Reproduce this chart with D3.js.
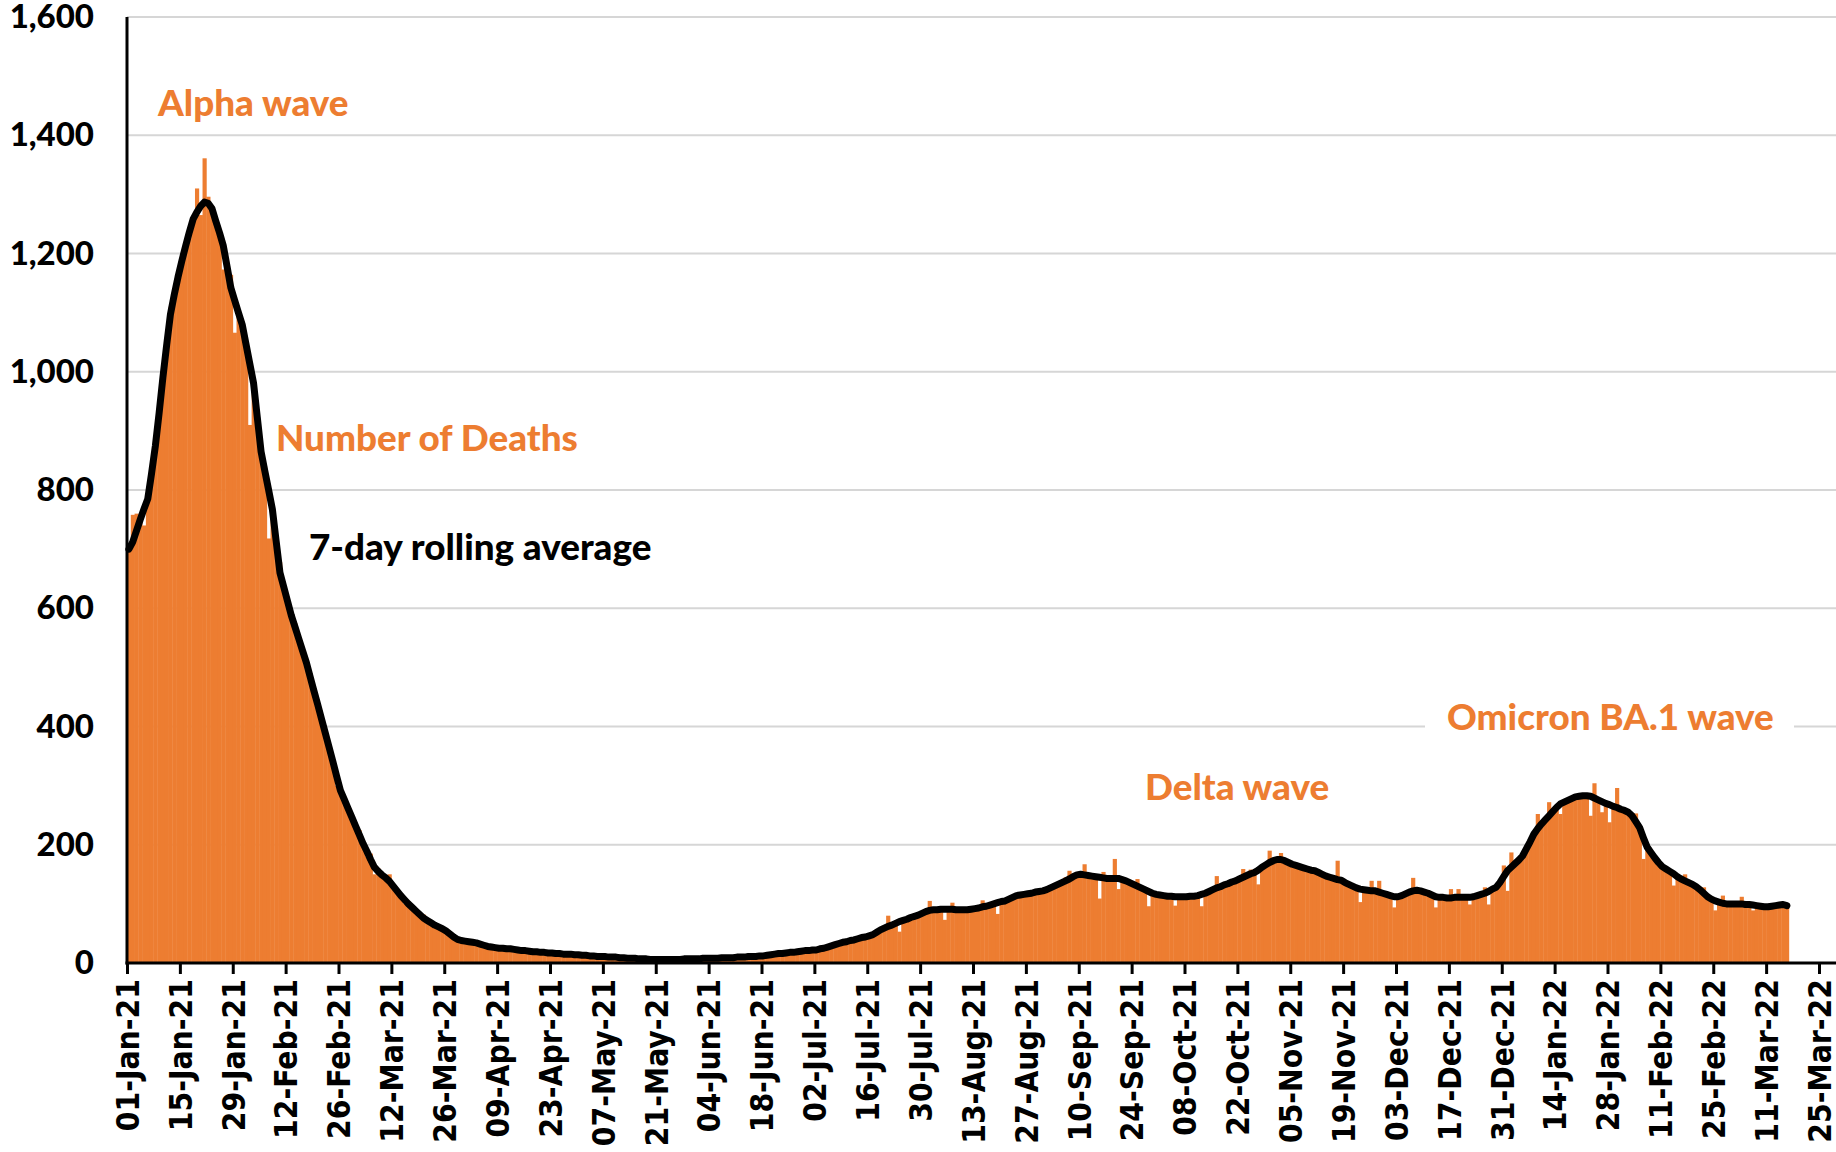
<!DOCTYPE html>
<html><head><meta charset="utf-8">
<script src="https://cdn.jsdelivr.net/npm/d3@7"></script>
<style>html,body{margin:0;padding:0;background:#fff;} svg{display:block;}</style>
</head><body>
<svg id="chart" width="1836" height="1152"></svg>
<script>
// ---------------- DATA ----------------
const startDate = "01-Jan-21";

// Daily number of deaths, one value per day from 01-Jan-21 (440 days)
const dailyDeaths = [
705,758,760,757,740,790,820,880,935,1010,
1040,1110,1120,1165,1190,1209,1225,1262,1310,1265,
1361,1296,1280,1245,1240,1173,1170,1164,1066,1106,
1085,1040,910,980,920,856,840,718,770,720,
678,637,610,590,575,540,517,495,490,455,
440,420,380,370,345,300,285,280,255,240,
231,225,195,180,185,150,160,145,140,150,
125,118,115,100,104,90,85,80,82,68,
66,60,62,55,58,44,46,40,35,38,
33,37,32,30,32,26,28,25,24,27,
22,25,23,20,22,19,21,18,20,17,
19,16,18,15,17,14,16,15,13,15,
12,14,11,13,10,12,11,9,11,10,
9,10,7,9,8,6,8,7,5,7,
6,5,7,6,5,7,6,8,6,7,
6,8,7,9,8,7,9,8,10,9,
10,9,11,10,12,10,13,11,14,12,
15,14,18,15,19,17,20,18,22,20,
23,21,25,23,27,26,31,30,35,34,
38,36,42,40,46,43,49,47,55,58,
62,80,60,70,53,75,72,80,76,84,
86,88,105,90,92,89,73,91,102,88,
92,89,91,93,90,95,106,97,99,101,
83,106,104,110,113,116,112,118,121,116,
123,118,125,122,130,128,136,134,145,156,
148,151,147,167,150,146,148,109,154,145,
140,176,125,145,138,137,133,142,127,124,
96,120,118,117,116,112,115,97,113,115,
110,114,116,112,96,120,118,123,147,126,
130,136,133,141,138,159,147,158,150,133,
160,166,190,172,175,186,171,168,163,165,
162,160,158,155,157,150,152,146,143,141,
173,138,134,131,128,126,103,125,122,139,
118,139,115,117,112,94,110,113,116,118,
144,121,123,118,116,113,94,112,110,112,
125,108,125,110,112,99,113,115,118,128,
99,126,130,140,165,122,187,170,176,182,
195,208,220,252,238,245,272,258,266,252,
274,277,280,283,284,286,285,249,304,278,
255,272,238,266,296,262,258,257,250,253,
230,176,198,190,180,172,165,160,156,131,
148,144,150,138,135,130,126,128,113,110,
89,104,114,101,99,100,102,112,98,100,
89,98,97,96,95,97,98,99,100,98
];

// 7-day rolling average, one value per day (440 days)
const rollingAverage7 = [
700,712,731,750,768,785,828,874,930,990,
1045,1097,1130,1160,1187,1212,1236,1258,1270,1280,
1287,1285,1276,1255,1235,1213,1178,1142,1121,1100,
1080,1047,1014,981,923,865,832,800,767,713,
660,636,612,588,568,548,528,508,484,460,
437,413,389,365,341,316,292,277,262,247,
232,217,202,189,175,162,155,149,144,138,
130,122,114,107,100,94,88,82,76,72,
68,64,61,58,54,49,44,40,38,37,
36,35,34,32,30,28,27,26,25,25,
24,24,23,22,21,21,20,19,19,18,
18,17,17,16,16,15,15,15,14,14,
13,13,12,12,11,11,11,10,10,10,
9,9,8,8,8,7,7,7,6,6,
6,6,6,6,6,6,6,7,7,7,
7,7,8,8,8,8,8,9,9,9,
9,10,10,10,11,11,11,12,12,13,
14,15,16,16,17,18,18,19,20,21,
21,22,22,24,25,27,29,31,33,35,
36,38,39,41,43,44,46,48,52,56,
59,62,64,67,70,72,74,77,79,81,
84,87,89,90,90,91,91,91,91,90,
90,90,90,91,92,93,95,96,98,100,
102,104,105,108,111,114,115,116,117,118,
120,121,122,124,127,130,133,136,139,142,
146,149,150,149,148,147,146,145,144,143,
143,143,143,141,139,136,133,130,127,124,
121,118,116,115,114,113,113,112,112,112,
112,113,113,114,116,118,121,124,127,129,
132,134,137,139,142,145,148,151,153,157,
162,166,170,173,175,175,173,170,167,165,
163,161,159,157,156,153,150,147,145,143,
141,140,136,133,130,127,125,124,123,122,
122,120,118,116,114,112,112,114,117,120,
122,123,122,120,118,115,112,111,111,110,
110,111,111,111,111,111,112,114,116,118,
121,125,128,136,146,156,162,168,174,181,
193,205,218,227,235,242,249,256,263,269,
272,275,278,281,282,283,283,282,279,276,
273,270,268,265,263,260,258,255,249,239,
229,212,196,187,178,170,163,159,155,151,
146,142,139,136,133,129,124,118,112,108,
105,103,101,100,100,100,100,100,99,99,
98,97,96,95,95,96,97,98,99,97
];

const tickLabels = ["01-Jan-21","15-Jan-21","29-Jan-21","12-Feb-21","26-Feb-21","12-Mar-21","26-Mar-21",
"09-Apr-21","23-Apr-21","07-May-21","21-May-21","04-Jun-21","18-Jun-21","02-Jul-21","16-Jul-21",
"30-Jul-21","13-Aug-21","27-Aug-21","10-Sep-21","24-Sep-21","08-Oct-21","22-Oct-21","05-Nov-21",
"19-Nov-21","03-Dec-21","17-Dec-21","31-Dec-21","14-Jan-22","28-Jan-22","11-Feb-22","25-Feb-22",
"11-Mar-22","25-Mar-22"];

const yTickValues = [0,200,400,600,800,1000,1200,1400,1600];

const annotationTexts = ["Alpha wave","Number of Deaths","7-day rolling average","Delta wave","Omicron BA.1 wave"];

// ---------------- DRAWING ----------------
const W = 1836, H = 1152;
const ORANGE = "#ED7D31";
const parse = d3.utcParse("%d-%b-%y");
const start = parse(startDate);
const dates = dailyDeaths.map((_, i) => d3.utcDay.offset(start, i));
const tickDates = tickLabels.map(parse);

const x = d3.scaleUtc().domain([start, tickDates[tickDates.length - 1]]).range([127, 1819]);
const y = d3.scaleLinear().domain([0, 1600]).range([963, 17]);

const svg = d3.select("#chart");
svg.append("rect").attr("width", W).attr("height", H).attr("fill", "#fff");

// gridlines
svg.append("g").selectAll("line").data(yTickValues.filter(v => v > 0)).join("line")
  .attr("x1", 127).attr("x2", W).attr("y1", d => y(d)).attr("y2", d => y(d))
  .attr("stroke", "#d6d6d6").attr("stroke-width", 2.2);

// bars
svg.append("g").selectAll("rect").data(dailyDeaths).join("rect")
  .attr("x", (d, i) => x(dates[i]))
  .attr("width", (d, i) => x(d3.utcDay.offset(dates[i], 1)) - x(dates[i]) + 0.4)
  .attr("y", d => y(d))
  .attr("height", d => y(0) - y(d))
  .attr("fill", ORANGE);

// rolling average line
const line = d3.line()
  .x((d, i) => (x(dates[i]) + x(d3.utcDay.offset(dates[i], 1))) / 2)
  .y(d => y(d));
svg.append("path").datum(rollingAverage7).attr("d", line)
  .attr("fill", "none").attr("stroke", "#000").attr("stroke-width", 7)
  .attr("stroke-linejoin", "round").attr("stroke-linecap", "round");

// y axis
const yAxis = d3.axisLeft(y).tickValues(yTickValues).tickFormat(d3.format(",")).tickSize(0).tickPadding(33);
const gy = svg.append("g").attr("transform", "translate(127,0)").call(yAxis);
gy.select(".domain").remove();
gy.selectAll("text").attr("font-family", "Lato, sans-serif").attr("font-weight", 900)
  .attr("font-size", 33).attr("fill", "#000");
svg.append("line").attr("x1", 127).attr("x2", 127).attr("y1", 17).attr("y2", 964.5)
  .attr("stroke", "#000").attr("stroke-width", 3);

// x axis
const xAxis = d3.axisBottom(x).tickValues(tickDates).tickFormat((d, i) => tickLabels[i]).tickSize(11).tickPadding(4);
const gx = svg.append("g").attr("transform", "translate(0,963)").call(xAxis);
gx.select(".domain").remove();
gx.selectAll(".tick line").attr("stroke", "#000").attr("stroke-width", 3);
gx.selectAll("text")
  .attr("font-family", "'DejaVu Sans Condensed', 'DejaVu Sans', sans-serif").attr("font-weight", "bold").attr("font-size", 31.5)
  .attr("fill", "#000")
  .attr("text-anchor", "end")
  .attr("transform", "rotate(-90)")
  .attr("x", -16).attr("y", 0).attr("dy", "0.36em");
svg.append("line").attr("x1", 125.5).attr("x2", W).attr("y1", 963).attr("y2", 963)
  .attr("stroke", "#000").attr("stroke-width", 3);

// annotations
const annPos = [
  {x: 158, y: 103, color: ORANGE},
  {x: 276, y: 438, color: ORANGE},
  {x: 309, y: 547, color: "#000"},
  {x: 1145, y: 787, color: ORANGE},
  {x: 1447, y: 717, color: ORANGE, bg: [1425, 1794]}
];
annotationTexts.forEach((t, i) => {
  const p = annPos[i];
  if (p.bg) {
    svg.append("rect").attr("x", p.bg[0]).attr("y", p.y - 22).attr("width", p.bg[1] - p.bg[0]).attr("height", 44).attr("fill", "#fff");
  }
  svg.append("text").attr("x", p.x).attr("y", p.y).attr("dy", "0.36em")
    .attr("font-family", "Lato, sans-serif").attr("font-weight", 900).attr("font-size", 36.8)
    .attr("fill", p.color).text(t);
});
</script>
</body></html>
